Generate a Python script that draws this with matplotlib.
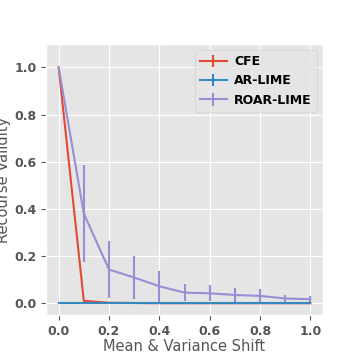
import matplotlib
matplotlib.use("Agg")
import matplotlib.pyplot as plt
import numpy as np

plt.style.use("ggplot")

shifts = [0.0, 0.1, 0.2, 0.3, 0.4, 0.5, 0.6, 0.7, 0.8, 0.9, 1.0]
cfe_mean = [1.0, 0.01, 0.002, 0.001, 0.0, 0.0, 0.0, 0.0, 0.0, 0.0, 0.0]
cfe_err = [0.0, 0.0, 0.0, 0.0, 0.0, 0.0, 0.0, 0.0, 0.0, 0.0, 0.0]
ar_mean = [0.0, 0.0, 0.0, 0.0, 0.0, 0.0, 0.0, 0.0, 0.0, 0.0, 0.0]
ar_err = [0.0, 0.0, 0.0, 0.0, 0.0, 0.0, 0.0, 0.0, 0.0, 0.0, 0.0]
roar_mean = [1.0, 0.38, 0.143, 0.109, 0.072, 0.045, 0.042, 0.035, 0.031, 0.02, 0.017]
roar_err = [0.0, 0.205, 0.12, 0.093, 0.065, 0.035, 0.034, 0.028, 0.028, 0.014, 0.013]

fig, ax = plt.subplots(figsize=(3.6, 3.6), dpi=100)
ax.errorbar(shifts, cfe_mean, yerr=cfe_err, label="CFE", color="#E24A33", lw=1.5)
ax.errorbar(shifts, ar_mean, yerr=ar_err, label="AR-LIME", color="#348ABD", lw=1.5)
ax.errorbar(shifts, roar_mean, yerr=roar_err, label="ROAR-LIME", color="#988ED5", lw=1.5)

ax.set_ylim(-0.05, 1.1)
ax.set_xticks([0.0, 0.2, 0.4, 0.6, 0.8, 1.0])
ax.set_yticks([0.0, 0.2, 0.4, 0.6, 0.8, 1.0])
for lab in ax.get_xticklabels() + ax.get_yticklabels():
    lab.set_fontweight("bold")
    lab.set_fontsize(9)
ax.set_xlabel("Mean & Variance Shift", fontsize=10.5, labelpad=1)
ax.set_ylabel("Recourse Validity", fontsize=10.5, labelpad=2)
ax.legend(prop={"weight": "bold", "size": 9}, loc="upper right",
          handletextpad=0.6, handlelength=2.1)

fig.subplots_adjust(left=0.128, right=0.897, top=0.878, bottom=0.125)
fig.savefig("out.png", dpi=100)
